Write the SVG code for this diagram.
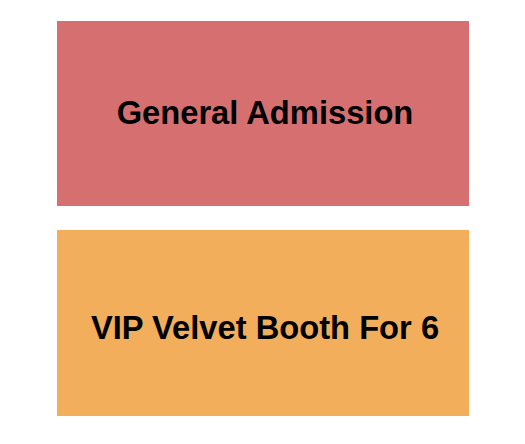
<svg xmlns="http://www.w3.org/2000/svg" width="525" height="444" viewBox="0 0 525 444">
<style>
.lbl{font-family:"Liberation Sans",Arial,sans-serif;font-weight:bold;font-size:32.7px;fill:#000;text-anchor:middle}
</style>
<rect width="525" height="444" fill="#fff"/>
<g id="general-admission">
<rect x="57" y="21" width="412" height="185" fill="#D67070"/>
<text class="lbl" x="265" y="124">General Admission</text>
</g>
<g id="vip-velvet-booth">
<rect x="57" y="230" width="412" height="186" fill="#F2AE5A"/>
<text class="lbl" x="265" y="339">VIP Velvet Booth For 6</text>
</g>
<g id="connectors"></g>
</svg>
